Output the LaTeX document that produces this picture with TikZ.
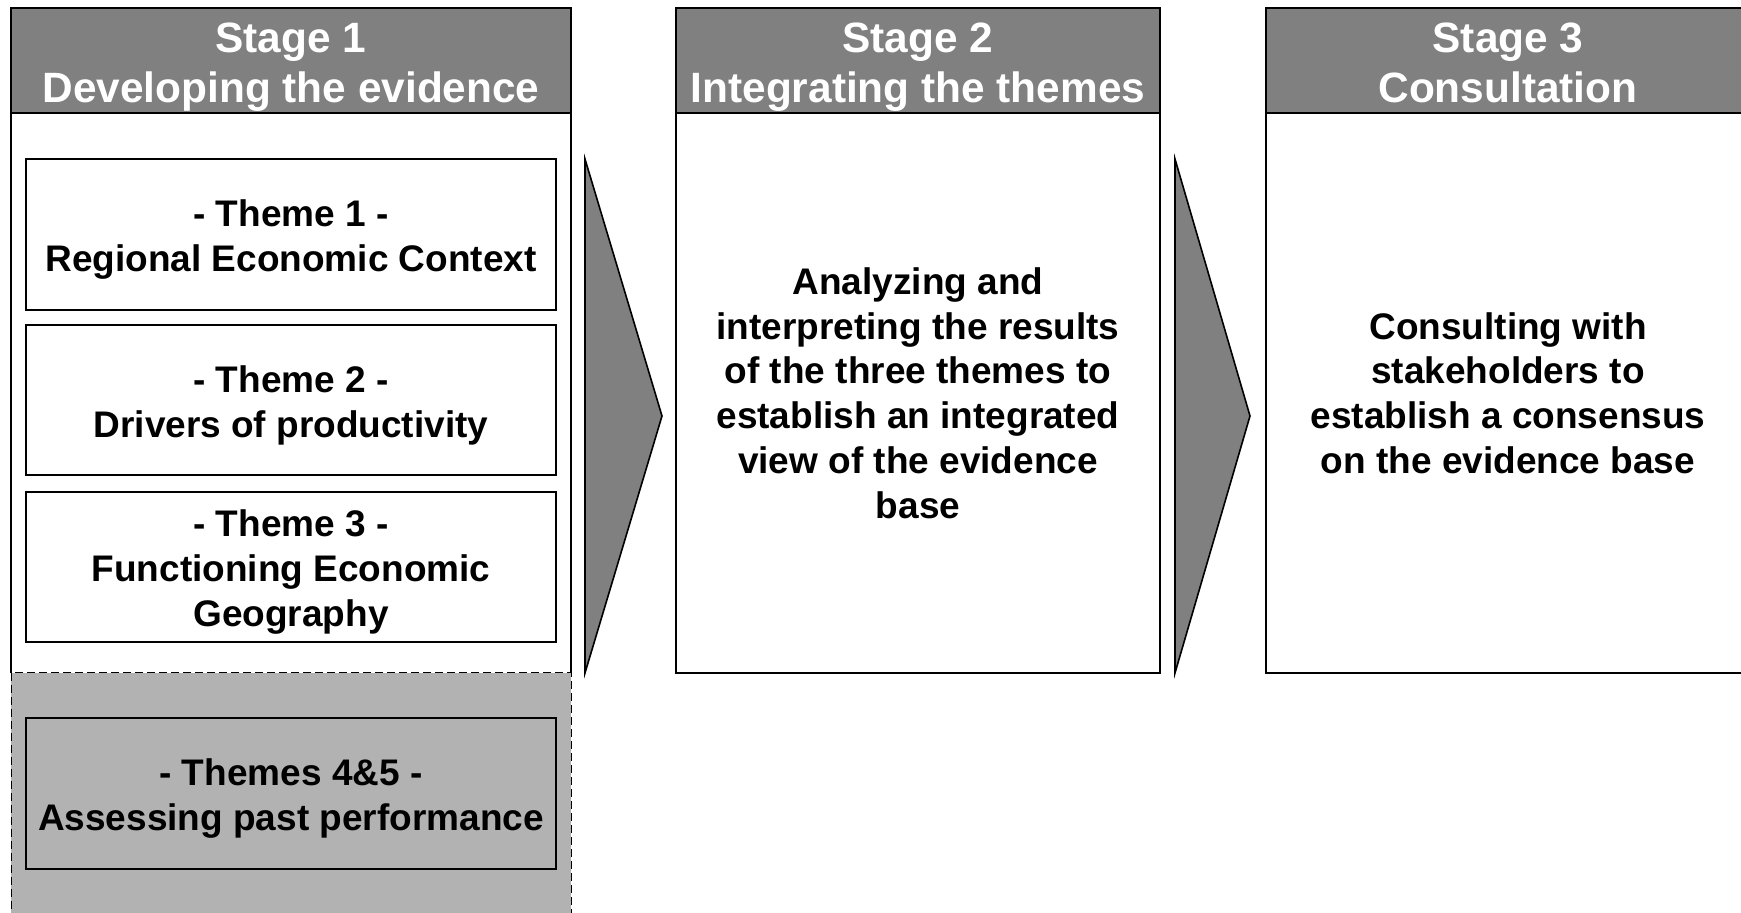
\documentclass[tikz,border=0pt]{standalone}
\usepackage{fontspec}
\setmainfont{Liberation Sans}
\definecolor{hdrgray}{HTML}{808080}
\definecolor{lightgr}{HTML}{B2B2B2}
\newcommand\hdrtop{\rule{0pt}{22pt}}
\newcommand\hdrbot{\rule[-4.5pt]{0pt}{4.5pt}}
\newcommand\thmtop{\rule{0pt}{18.5pt}}
\begin{document}
\begin{tikzpicture}[x=1pt,y=1pt,
  boxline/.style={draw=black,line width=1pt},
  hdr/.style={boxline,fill=hdrgray,rectangle,inner sep=0pt,minimum height=52.5pt,
    align=center,text=white,font=\fontsize{21.2}{25}\selectfont\bfseries},
  bodybox/.style={rectangle,inner sep=0pt,minimum height=280pt,align=center,
    font=\fontsize{18.5}{22.4}\selectfont\bfseries},
  theme/.style={boxline,fill=white,rectangle,inner sep=0pt,minimum width=265pt,
    align=center,font=\fontsize{18.5}{22.4}\selectfont\bfseries},
  chevron/.style={draw=black,line width=0.8pt,fill=hdrgray,line join=miter}]
\useasboundingbox (0,0) rectangle (870.5,-456.5);
\clip (0,0) rectangle (870.5,-456.5);
% Stage 1
\node[rectangle,draw=black,dash pattern=on 4pt off 2pt,line width=0.5pt,fill=lightgr,
  minimum width=280pt,minimum height=130pt,inner sep=0pt] (grey) at (145.5,-401.5) {};
\node[bodybox,minimum width=280pt] (s1body) at (145.5,-196.5) {};
\draw[boxline] (s1body.south west) -- (s1body.north west) -- (s1body.north east) -- (s1body.south east);
\node[hdr,minimum width=280pt] (s1hdr) at (145.5,-30.25) {\hdrtop Stage 1\\Developing the evidence\hdrbot};
\node[theme,minimum height=75.5pt] (t1) at (145.5,-117.25) {\thmtop- Theme 1 -\\Regional Economic Context};
\node[theme,minimum height=75pt] (t2) at (145.5,-200) {\thmtop- Theme 2 -\\Drivers of productivity};
\node[theme,minimum height=75pt] (t3) at (145.5,-283.5) {\thmtop- Theme 3 -\\Functioning Economic\\Geography};
\node[theme,fill=lightgr,minimum height=75.5pt] (t45) at (145.5,-396.75) {\thmtop- Themes 4\&5 -\\Assessing past performance};
% Arrow 1
\coordinate (a1t) at (292.5,-79.5);
\coordinate (a1p) at (331,-208);
\coordinate (a1b) at (292.5,-336.5);
\draw[chevron] (a1t) -- (a1p) -- (a1b) -- cycle;
% Stage 2
\node[bodybox,boxline,minimum width=242pt] (s2body) at (459,-196.5)
  {Analyzing and\\interpreting the results\\of the three themes to\\establish an integrated\\view of the evidence\\base};
\node[hdr,minimum width=242pt] (s2hdr) at (459,-30.25) {\hdrtop Stage 2\\Integrating the themes\hdrbot};
% Arrow 2
\coordinate (a2t) at (587.5,-79.5);
\coordinate (a2p) at (625,-208);
\coordinate (a2b) at (587.5,-336.5);
\draw[chevron] (a2t) -- (a2p) -- (a2b) -- cycle;
% Stage 3
\node[bodybox,boxline,minimum width=242pt] (s3body) at (754,-196.5)
  {Consulting with\\stakeholders to\\establish a consensus\\on the evidence base};
\node[hdr,minimum width=242pt] (s3hdr) at (754,-30.25) {\hdrtop Stage 3\\Consultation\hdrbot};
\end{tikzpicture}
\end{document}
